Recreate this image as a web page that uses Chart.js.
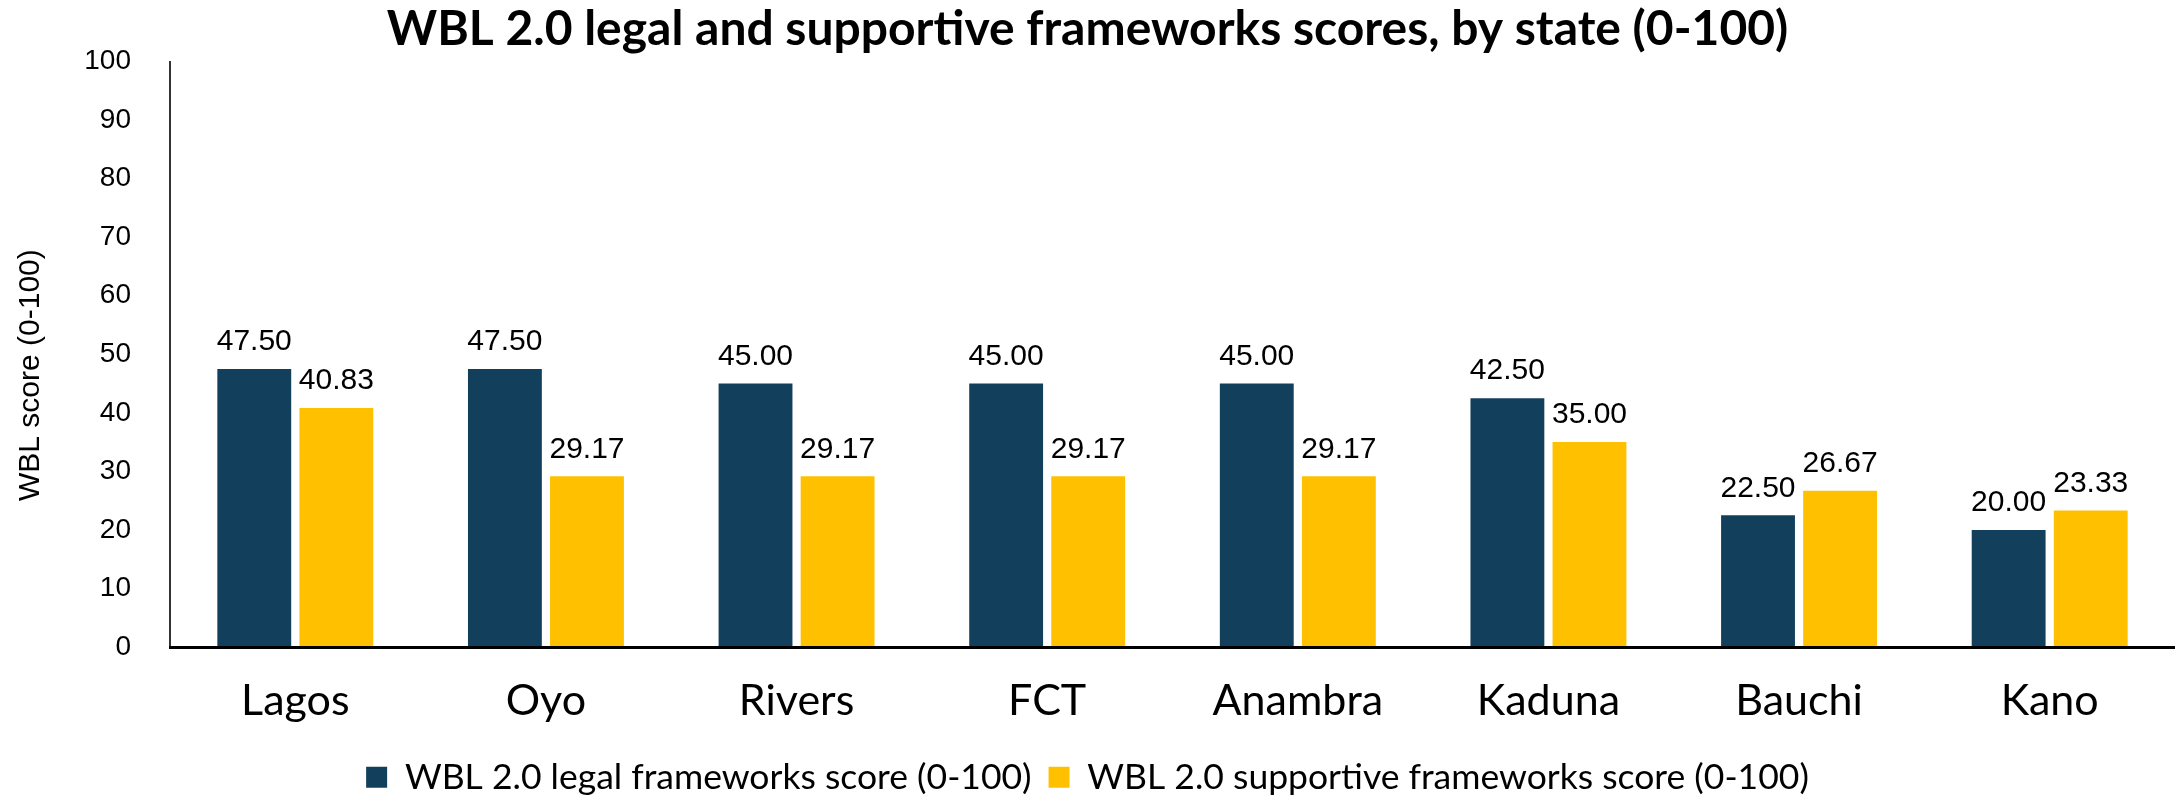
<!DOCTYPE html>
<html>
<head>
<meta charset="utf-8">
<script src="https://cdn.jsdelivr.net/npm/chart.js@4.4.1/dist/chart.umd.min.js"></script>
<style>
  html, body { margin: 0; padding: 0; background: #fff; }
  #wrap { width: 2175px; height: 796px; }
</style>
</head>
<body>
<div id="wrap"><canvas id="wblChart" width="2175" height="796"></canvas></div>
<script>
// values
const states = ['Lagos', 'Oyo', 'Rivers', 'FCT', 'Anambra', 'Kaduna', 'Bauchi', 'Kano'];
const legalScores = [47.50, 47.50, 45.00, 45.00, 45.00, 42.50, 22.50, 20.00];
const supportiveScores = [40.83, 29.17, 29.17, 29.17, 29.17, 35.00, 26.67, 23.33];
const seriesNames = [
    'WBL 2.0 legal frameworks score (0-100)',
    'WBL 2.0 supportive frameworks score (0-100)'
];
const yMin = 0, yMax = 100, yStep = 10;

const NUM_FONT = '"Liberation Sans", Arial, sans-serif';
const TXT_FONT = 'Lato, "Open Sans", sans-serif';
const PLOT_BOTTOM = 647;   // pixel row of the zero line
const BOTTOM_PAD = -9;     // lets the legend sit close to the bottom edge

// draws the 2-decimal value above each bar
const valueLabels = {
    id: 'valueLabels',
    afterDatasetsDraw(chart) {
        const { ctx } = chart;
        ctx.save();
        ctx.font = `30px ${NUM_FONT}`;
        ctx.fillStyle = '#000';
        ctx.textAlign = 'center';
        ctx.textBaseline = 'middle';
        chart.data.datasets.forEach((ds, i) => {
            chart.getDatasetMeta(i).data.forEach((bar, j) => {
                ctx.fillText(ds.data[j].toFixed(2), bar.x, bar.y - 27);
            });
        });
        ctx.restore();
    }
};

new Chart(document.getElementById('wblChart'), {
    type: 'bar',
    data: {
        labels: states,
        datasets: [
            { label: seriesNames[0], data: legalScores, backgroundColor: '#12405C' },
            { label: seriesNames[1], data: supportiveScores, backgroundColor: '#FFC000' }
        ]
    },
    options: {
        responsive: false,
        animation: false,
        categoryPercentage: 0.655,
        barPercentage: 0.9,
        layout: { padding: { top: 1, right: 0, bottom: BOTTOM_PAD, left: 0 } },
        plugins: {
            title: {
                display: true,
                text: 'WBL 2.0 legal and supportive frameworks scores, by state (0-100)',
                color: '#000',
                font: { family: TXT_FONT, size: 48, weight: 'bold' },
                padding: { top: 0, bottom: 3 }
            },
            legend: {
                position: 'bottom',
                labels: {
                    color: '#000',
                    font: { family: TXT_FONT, size: 35.5 },
                    boxWidth: 21,
                    boxHeight: 21,
                    padding: 17
                }
            },
            tooltip: { enabled: false }
        },
        scales: {
            x: {
                grid: { display: false },
                border: { display: true, color: '#000', width: 3, z: 1 },
                ticks: {
                    color: '#000',
                    font: { family: TXT_FONT, size: 43 },
                    padding: 20
                },
                afterFit(scale) {
                    const chart = scale.chart;
                    scale.height = chart.height - BOTTOM_PAD - chart.legend.height - PLOT_BOTTOM;
                }
            },
            y: {
                min: yMin,
                max: yMax,
                grid: { display: false },
                border: { display: true, color: '#333', width: 2 },
                ticks: {
                    stepSize: yStep,
                    color: '#000',
                    font: { family: NUM_FONT, size: 28 },
                    padding: 31
                },
                title: {
                    display: true,
                    // trailing spaces nudge the visible text down, as in the original
                    text: 'WBL score (0-100)\u00a0\u00a0\u00a0\u00a0\u00a0',
                    color: '#000',
                    font: { family: NUM_FONT, size: 30 },
                    padding: { top: 13, bottom: 0 }
                },
                afterFit(scale) { scale.width = 170; }
            }
        }
    },
    plugins: [valueLabels]
});
</script>
</body>
</html>
